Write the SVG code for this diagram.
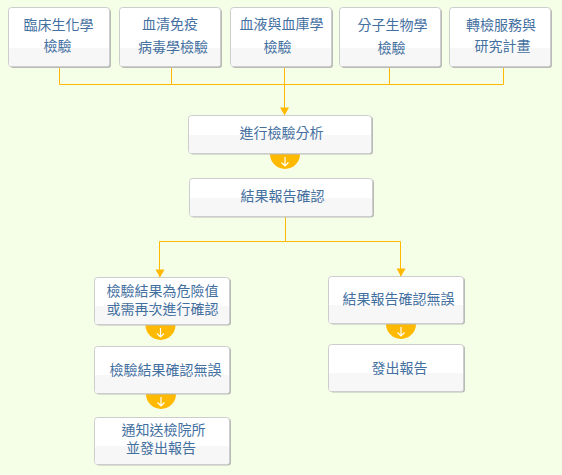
<svg xmlns="http://www.w3.org/2000/svg" width="562" height="475" viewBox="0 0 562 475">
<style>
.bg{fill:#f5ffe8}
.sh{fill:#b9bbb6}
.b{fill:#fff;stroke:#cdcdcd;stroke-width:1}
.lo{fill:#f7f7f7}
text{font-family:"Noto Sans CJK TC","Liberation Sans",sans-serif;font-size:14px;fill:#44709f;text-anchor:middle}
.c{fill:none;stroke:#ffb900;stroke-width:1}
.h{fill:#ffb900}
.a{fill:none;stroke:#fff;stroke-width:1.2}
</style>
<defs>
<g id="ho"><path class="h" d="M-15 0A15 15 0 0 0 15 0Z"/><path class="a" d="M0 3V12M-3.500 8.500L0 12L3.500 8.500"/></g>
</defs>
<rect class="bg" width="562" height="475"/>
<g id="connectors">
<path class="c" d="M59.500 67V84.500H503.500V67M171.500 67V84.500M389.500 67V84.500M284.500 67V115"/>
<path class="h" d="M280 107.500H289L284.500 115.500Z"/>
<path class="c" d="M285.500 216V241.500M159.500 277V241.500H400.500V276"/>
<path class="h" d="M155.500 269.500H164.500L160 277.500Z"/>
<path class="h" d="M396.500 268.500H405.500L401 276.500Z"/>
<use href="#ho" x="285" y="154"/>
<use href="#ho" x="160.500" y="325"/>
<use href="#ho" x="161" y="394"/>
<use href="#ho" x="401" y="324"/>
</g>
<g id="n1"><rect class="sh" x="10" y="9" width="101" height="59" rx="3"/><rect class="b" x="8.500" y="7.500" width="101" height="59" rx="3"/><rect class="lo" x="9" y="48" width="100" height="18" rx="2"/><text><tspan x="58.500" y="30">臨床生化學</tspan><tspan x="57.500" y="51">檢驗</tspan></text></g>
<g id="n2"><rect class="sh" x="121" y="9" width="101" height="59" rx="3"/><rect class="b" x="119.500" y="7.500" width="101" height="59" rx="3"/><rect class="lo" x="120" y="48" width="100" height="18" rx="2"/><text><tspan x="170" y="29">血清免疫</tspan><tspan x="173" y="52">病毒學檢驗</tspan></text></g>
<g id="n3"><rect class="sh" x="232" y="9" width="101" height="59" rx="3"/><rect class="b" x="230.500" y="7.500" width="101" height="59" rx="3"/><rect class="lo" x="231" y="48" width="100" height="18" rx="2"/><text><tspan x="281.500" y="29">血液與血庫學</tspan><tspan x="277.500" y="52">檢驗</tspan></text></g>
<g id="n4"><rect class="sh" x="341" y="9" width="101" height="59" rx="3"/><rect class="b" x="339.500" y="7.500" width="101" height="59" rx="3"/><rect class="lo" x="340" y="48" width="100" height="18" rx="2"/><text><tspan x="392.500" y="30">分子生物學</tspan><tspan x="391.500" y="53">檢驗</tspan></text></g>
<g id="n5"><rect class="sh" x="451" y="9" width="101" height="59" rx="3"/><rect class="b" x="449.500" y="7.500" width="101" height="59" rx="3"/><rect class="lo" x="450" y="48" width="100" height="18" rx="2"/><text><tspan x="501" y="30">轉檢服務與</tspan><tspan x="502.500" y="51">研究計畫</tspan></text></g>
<g id="n6"><rect class="sh" x="190" y="116.500" width="183" height="38" rx="3"/><rect class="b" x="188.500" y="115.500" width="183" height="38" rx="3"/><rect class="lo" x="189" y="135" width="182" height="18" rx="2"/><text x="281.500" y="138">進行檢驗分析</text></g>
<g id="n7"><rect class="sh" x="191" y="179.500" width="183" height="38" rx="3"/><rect class="b" x="189.500" y="178.500" width="183" height="38" rx="3"/><rect class="lo" x="190" y="198" width="182" height="18" rx="2"/><text x="282.500" y="200.500">結果報告確認</text></g>
<g id="n8"><rect class="sh" x="96" y="278.500" width="135" height="47" rx="3"/><rect class="b" x="94.500" y="277.500" width="135" height="47" rx="3"/><rect class="lo" x="95" y="306" width="134" height="18" rx="2"/><text><tspan x="162.500" y="296">檢驗結果為危險值</tspan><tspan x="162.500" y="314">或需再次進行確認</tspan></text></g>
<g id="n9"><rect class="sh" x="96" y="347.500" width="135" height="47" rx="3"/><rect class="b" x="94.500" y="346.500" width="135" height="47" rx="3"/><rect class="lo" x="95" y="375" width="134" height="18" rx="2"/><text x="165.500" y="375">檢驗結果確認無誤</text></g>
<g id="n10"><rect class="sh" x="96" y="418.500" width="135" height="47" rx="3"/><rect class="b" x="94.500" y="417.500" width="135" height="47" rx="3"/><rect class="lo" x="95" y="446" width="134" height="18" rx="2"/><text><tspan x="163.500" y="435">通知送檢院所</tspan><tspan x="161" y="453">並發出報告</tspan></text></g>
<g id="n11"><rect class="sh" x="330" y="277.500" width="135" height="47" rx="3"/><rect class="b" x="328.500" y="276.500" width="135" height="47" rx="3"/><rect class="lo" x="329" y="305" width="134" height="18" rx="2"/><text x="398.500" y="304">結果報告確認無誤</text></g>
<g id="n12"><rect class="sh" x="330" y="345.500" width="135" height="47" rx="3"/><rect class="b" x="328.500" y="344.500" width="135" height="47" rx="3"/><rect class="lo" x="329" y="373" width="134" height="18" rx="2"/><text x="399.500" y="373">發出報告</text></g>
</svg>
